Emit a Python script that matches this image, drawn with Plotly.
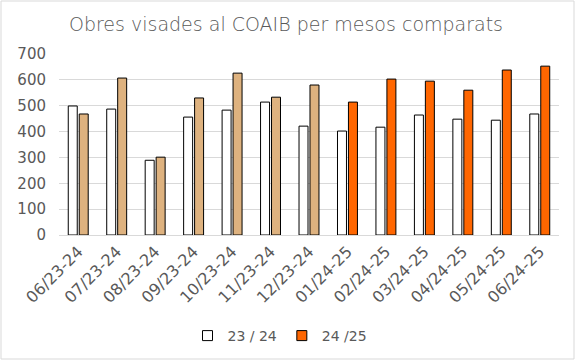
import plotly.graph_objects as go

categories = ["06/23-24", "07/23-24", "08/23-24", "09/23-24", "10/23-24", "11/23-24",
              "12/23-24", "01/24-25", "02/24-25", "03/24-25", "04/24-25", "05/24-25", "06/24-25"]
serie_23_24 = [499, 487, 289, 456, 483, 514, 421, 402, 417, 464, 448, 444, 468]
serie_24_25 = [468, 607, 301, 530, 626, 533, 580, 514, 603, 595, 560, 638, 653]
y_ticks = [0, 100, 200, 300, 400, 500, 600, 700]
n_old_period = 7  # first months of 24/25 series drawn in tan

TAN = "#DEB27F"
ORANGE = "#FF6600"
TEXT = "#595959"
FONT = "DejaVu Sans"

colors_2 = [TAN if i < n_old_period else ORANGE for i in range(len(categories))]

fig = go.Figure()
fig.add_trace(go.Bar(x=categories, y=serie_23_24, name="23 / 24",
                     marker=dict(color="white", line=dict(color="black", width=1)),
                     showlegend=False))
fig.add_trace(go.Bar(x=categories, y=serie_24_25, name="24 /25",
                     marker=dict(color=colors_2, line=dict(color="black", width=1)),
                     showlegend=False))
# legend entries
fig.add_trace(go.Scatter(x=[None], y=[None], mode="markers", name="23 / 24",
                         marker=dict(symbol="square", size=10, color="white",
                                     line=dict(color="black", width=1))))
fig.add_trace(go.Scatter(x=[None], y=[None], mode="markers", name="24 /25",
                         marker=dict(symbol="square", size=10, color=ORANGE,
                                     line=dict(color="black", width=1))))

L, R, T, B = 59, 16, 54, 125
W, H = 575, 360
pw, ph = W - L - R, H - T - B

fig.update_layout(
    width=W, height=H,
    margin=dict(l=L, r=R, t=T, b=B, autoexpand=False),
    paper_bgcolor="white", plot_bgcolor="white",
    barmode="group", bargap=0.43, bargroupgap=0.18,
    font=dict(family=FONT, color=TEXT, size=14),
    title=dict(text="Obres visades al COAIB per mesos comparats",
               x=286 / W, xanchor="center", y=1 - 24 / H, yanchor="middle",
               font=dict(size=19, color=TEXT, family=FONT, weight=300)),
    legend=dict(orientation="h", x=(280 - L) / pw, xanchor="center",
                y=-(336 - T - ph) / ph, yanchor="middle",
                font=dict(size=14, color=TEXT), itemwidth=30,
                tracegroupgap=0, itemclick=False),
    shapes=[dict(type="rect", xref="paper", yref="paper",
                 x0=-(L - 1) / pw, x1=1 + (R - 1) / pw,
                 y0=-(B - 1) / ph, y1=1 + (T - 1) / ph,
                 line=dict(color="#D9D9D9", width=1), fillcolor="rgba(0,0,0,0)",
                 layer="below")],
)
fig.update_yaxes(range=[0, 700], tickvals=y_ticks, showgrid=True, gridcolor="#D9D9D9",
                 gridwidth=1, zeroline=False, showline=False, ticks="", automargin=False,
                 tickfont=dict(size=15, color=TEXT), ticklabelstandoff=12)
fig.update_xaxes(showline=True, linecolor="#D9D9D9", linewidth=1, ticks="", automargin=False,
                 tickangle=-45, tickfont=dict(size=16, color=TEXT), showgrid=False)

fig.write_html("out.html", config={"displayModeBar": False},
               post_script="document.body.style.margin='0';")
